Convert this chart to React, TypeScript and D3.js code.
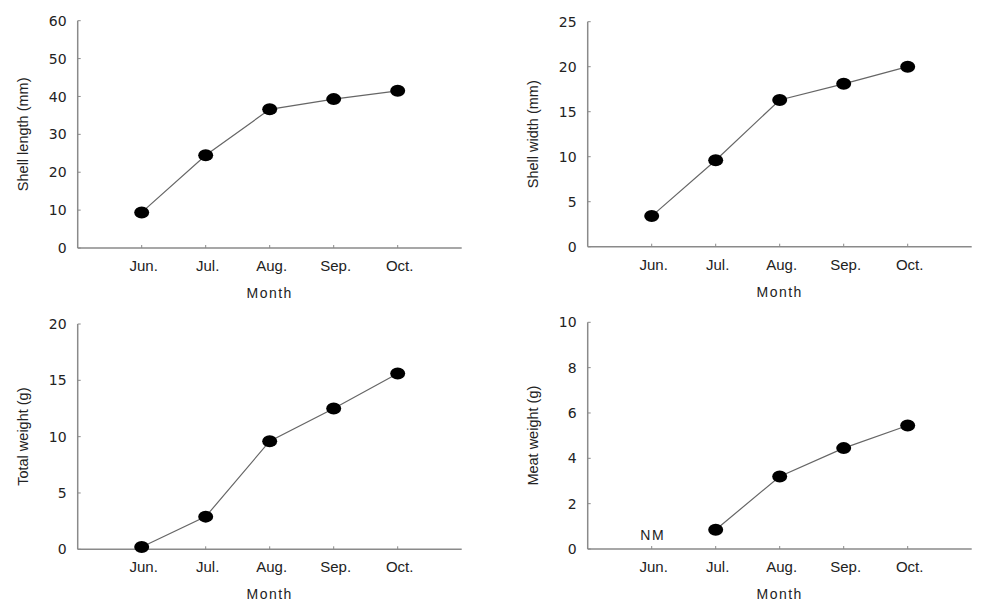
import React from "react";
import * as d3 from "d3";

const months = ["Jun.", "Jul.", "Aug.", "Sep.", "Oct."];
const shellLength = [9.4, 24.5, 36.6, 39.3, 41.5];
const shellWidth = [3.4, 9.6, 16.3, 18.1, 20.0];
const totalWeight = [0.2, 2.9, 9.6, 12.5, 15.6];
const meatWeight: (number | null)[] = [null, 0.85, 3.2, 4.45, 5.45];

const shellLengthTicks = [0, 10, 20, 30, 40, 50, 60];
const shellWidthTicks = [0, 5, 10, 15, 20, 25];
const totalWeightTicks = [0, 5, 10, 15, 20];
const meatWeightTicks = [0, 2, 4, 6, 8, 10];

type PanelProps = {
  left: number;
  top: number;
  bottom: number;
  values: (number | null)[];
  ticks: number[];
  label: string;
  nm?: boolean;
};

const FONT = "'Liberation Sans', Arial, sans-serif";
const NUMFONT = "'DejaVu Sans', sans-serif";
const AXIS = "#8a8a8a";

function Panel({ left, top, bottom, values, ticks, label, nm }: PanelProps) {
  const width = 384;
  const x = d3.scaleLinear().domain([0, 6]).range([left, left + width]);
  const y = d3
    .scaleLinear()
    .domain([0, ticks[ticks.length - 1]])
    .range([bottom, top]);
  const pts = values
    .map((v, i) => ({ v, i }))
    .filter((d) => d.v !== null) as { v: number; i: number }[];
  const line = d3
    .line<{ v: number; i: number }>()
    .x((d) => x(d.i + 1))
    .y((d) => y(d.v));
  const midY = (top + bottom) / 2;
  const midX = left + width / 2;
  return (
    <g>
      <line x1={left} x2={left} y1={top} y2={bottom} stroke={AXIS} strokeWidth={1.5} />
      <line x1={left} x2={left + width} y1={bottom} y2={bottom} stroke={AXIS} strokeWidth={1.5} />
      {ticks.map((t) => (
        <g key={t}>
          <line x1={left} x2={left + 3} y1={y(t)} y2={y(t)} stroke={AXIS} strokeWidth={1} />
          <text
            x={left - 11}
            y={y(t)}
            dy="0.36em"
            textAnchor="end"
            fontSize={14}
            fontFamily={NUMFONT}
            fill="#222"
          >
            {t}
          </text>
        </g>
      ))}
      {months.map((m, i) => (
        <g key={m}>
          <line x1={x(i + 1)} x2={x(i + 1)} y1={bottom} y2={bottom - 3} stroke={AXIS} strokeWidth={1} />
          <text
            x={x(i + 1) + 2}
            y={bottom + 23}
            textAnchor="middle"
            fontSize={15}
            fontFamily={FONT}
            fill="#222"
          >
            {m}
          </text>
        </g>
      ))}
      <text
        x={midX}
        y={bottom + 50}
        textAnchor="middle"
        fontSize={14}
        fontFamily={FONT}
        letterSpacing={1.5}
        fill="#222"
      >
        Month
      </text>
      <text
        transform={`translate(${left - 50},${midY}) rotate(-90)`}
        textAnchor="middle"
        fontSize={14.5}
        fontFamily={FONT}
        fill="#222"
      >
        {label}
      </text>
      <path d={line(pts) || ""} fill="none" stroke="#666" strokeWidth={1.2} />
      {pts.map((d) => (
        <ellipse key={d.i} cx={x(d.i + 1)} cy={y(d.v)} rx={7.5} ry={6} fill="#000" />
      ))}
      {nm && (
        <text
          x={x(1) + 1}
          y={bottom - 9}
          textAnchor="middle"
          fontSize={14}
          fontFamily={FONT}
          letterSpacing={1.5}
          fill="#222"
        >
          NM
        </text>
      )}
    </g>
  );
}

export default function App() {
  return (
    <svg
      width={995}
      height={613}
      style={{ position: "absolute", left: 0, top: 0, background: "#fff" }}
    >
      <rect width={995} height={613} fill="#fff" />
      <Panel left={77.7} top={20.7} bottom={248} values={shellLength} ticks={shellLengthTicks} label="Shell length (mm)" />
      <Panel left={587.7} top={21.7} bottom={246.7} values={shellWidth} ticks={shellWidthTicks} label="Shell width (mm)" />
      <Panel left={77.7} top={324} bottom={549.3} values={totalWeight} ticks={totalWeightTicks} label="Total weight (g)" />
      <Panel left={587.7} top={322.3} bottom={549} values={meatWeight} ticks={meatWeightTicks} label="Meat weight (g)" nm />
    </svg>
  );
}
